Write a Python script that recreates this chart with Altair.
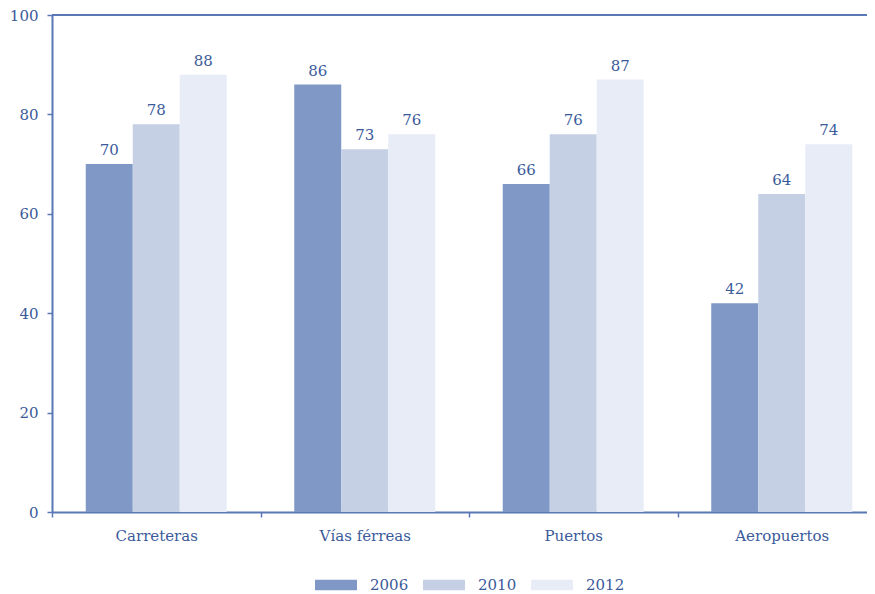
import altair as alt
import pandas as pd

categories = ["Carreteras", "Vías férreas", "Puertos", "Aeropuertos"]
years = ["2006", "2010", "2012"]
values_2006 = [70, 86, 66, 42]
values_2010 = [78, 73, 76, 64]
values_2012 = [88, 76, 87, 74]
colors = ["#7f98c6", "#c6d0e4", "#e7ecf6"]
y_ticks = [0, 20, 40, 60, 80, 100]

rows = []
for i, c in enumerate(categories):
    for yr, vals in zip(years, [values_2006, values_2010, values_2012]):
        rows.append({"categoria": c, "anio": yr, "valor": vals[i]})
df = pd.DataFrame(rows)

TEXT = "#3b5a9a"
AXIS = "#5a77b6"
FONT = "DejaVu Serif"

x_enc = alt.X(
    "categoria:N", sort=categories, title=None,
    scale=alt.Scale(range=[0, 834], paddingInner=0, paddingOuter=0),
    axis=alt.Axis(labelAngle=0, tickBand="extent", tickSize=5, tickColor=AXIS,
                  tickWidth=1.5, domainColor=AXIS, domainWidth=2,
                  labelColor=TEXT, labelFont=FONT, labelFontSize=15,
                  labelPadding=11),
)
y_enc = alt.Y(
    "valor:Q", title=None,
    scale=alt.Scale(domain=[0, 100], nice=False),
    axis=alt.Axis(values=y_ticks, grid=False, tickSize=5, tickColor=AXIS,
                  tickWidth=1.5, domainColor=AXIS, domainWidth=2,
                  labelColor=TEXT, labelFont=FONT, labelFontSize=15,
                  labelPadding=9),
)
xoff = alt.XOffset("anio:N", sort=years,
                   scale=alt.Scale(paddingInner=0, paddingOuter=0.718))

base = alt.Chart(df).encode(x=x_enc, xOffset=xoff, y=y_enc)

bars = base.mark_bar().encode(
    color=alt.Color(
        "anio:N", sort=years,
        scale=alt.Scale(domain=years, range=colors),
        legend=alt.Legend(
            orient="none", legendX=263, legendY=549, direction="horizontal",
            title=None, symbolType="M-1,-0.25H1V0.25H-1Z", symbolSize=1764,
            symbolStrokeWidth=0, labelFont=FONT, labelFontSize=15,
            labelColor=TEXT, labelOffset=13, columnPadding=14,
        ),
    )
)

labels = base.mark_text(dy=-9, baseline="alphabetic", font=FONT,
                        fontSize=15, color=TEXT).encode(text="valor:Q")

top_line = alt.Chart(pd.DataFrame({"v": [100]})).mark_rule(
    color=AXIS, strokeWidth=2).encode(y="v:Q")

chart = alt.layer(bars, labels, top_line).properties(
    width=815, height=497,
    autosize=alt.AutoSizeParams(type="none"),
    padding={"left": 44, "top": 7, "right": 0, "bottom": 82},
).configure_view(stroke=None)

chart.save("out.html", embed_options={"renderer": "svg", "actions": False})
